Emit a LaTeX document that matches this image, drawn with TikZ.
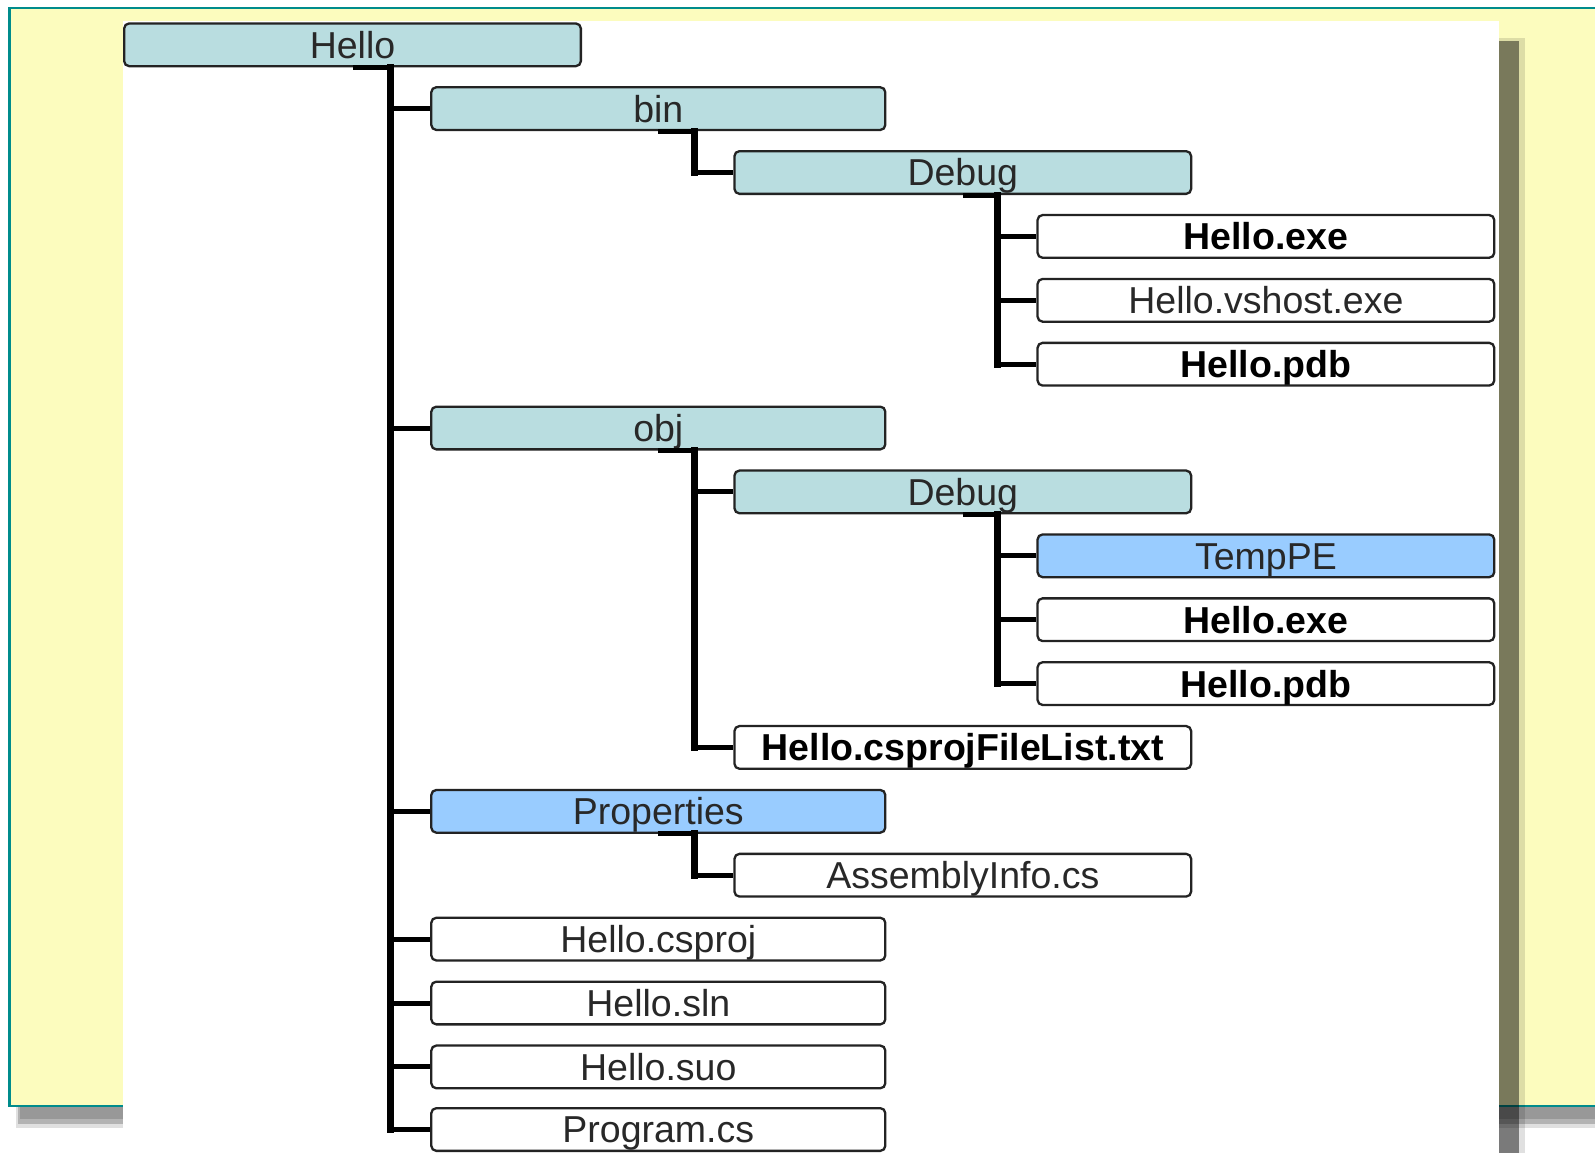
\documentclass[tikz,border=0pt]{standalone}
\usepackage{fontspec}
\setmainfont{Liberation Sans}
\definecolor{panelyellow}{RGB}{252,252,190}
\definecolor{panelteal}{RGB}{0,140,140}
\definecolor{tealfill}{RGB}{185,221,224}
\definecolor{bluefill}{RGB}{153,204,255}
\definecolor{boxline}{RGB}{35,35,35}
\definecolor{txtgray}{RGB}{40,40,40}
\begin{document}
\begin{tikzpicture}[x=1pt,y=-1pt,
  box/.style={draw=boxline, line width=2.3, rounded corners=5, minimum width=456.7,
    minimum height=42.7, inner sep=0, text height=26.9, text depth=0,
    font=\fontsize{37.5}{40}\selectfont, text=txtgray},
  lone/.style={minimum width=454},
  folder/.style={box, fill=tealfill},
  selfolder/.style={box, fill=bluefill},
  file/.style={box, fill=white},
  bfile/.style={box, fill=white, font=\fontsize{37.5}{40}\selectfont\bfseries, text=black},
  conn/.style={line width=5, black},
  vconn/.style={line width=7, black, line cap=rect}]
\clip (0,0) rectangle (1595,1152);
\fill[white] (0,0) rectangle (1595,1152);
% yellow panel and its shadow
\fill[black,opacity=0.12] (16,1104) rectangle (1620,1128);
\fill[black,opacity=0.2] (18,1104) rectangle (1620,1124);
\fill[black,opacity=0.15] (20,1104) rectangle (1620,1119);
\filldraw[fill=panelyellow, draw=panelteal, line width=2.5] (9.5,8) rectangle (1630,1106);
% white panel and its shadow
\fill[black,opacity=0.12] (140,38) rectangle (1525,1170);
\fill[black,opacity=0.45] (143,41) rectangle (1519,1170);
\fill[white] (123,21) rectangle (1499,1170);
% trunks
\coordinate (ta) at (390.6,0);
\coordinate (tb) at (694.7,0);
\coordinate (tc) at (997.9,0);
% nodes
\node[folder] (hello) at (352.5,44.8) {Hello};
\node[folder,lone] (bin) at (658.3,108.6) {bin};
\node[folder] (bindebug) at (962.8,172.5) {Debug};
\node[bfile] (binexe) at (1265.9,236.4) {Hello.exe};
\node[file] (vshost) at (1265.9,300.3) {Hello.vshost.exe};
\node[bfile] (binpdb) at (1265.9,364.2) {Hello.pdb};
\node[folder,lone] (obj) at (658.3,428.0) {obj};
\node[folder] (objdebug) at (962.8,491.9) {Debug};
\node[selfolder] (temppe) at (1265.9,555.8) {TempPE};
\node[bfile] (objexe) at (1265.9,619.7) {Hello.exe};
\node[bfile] (objpdb) at (1265.9,683.6) {Hello.pdb};
\node[bfile] (filelist) at (962.8,747.4) {Hello.csprojFileList.txt};
\node[selfolder,lone] (props) at (658.3,811.3) {Properties};
\node[file] (asminfo) at (962.8,875.2) {AssemblyInfo.cs};
\node[file,lone] (csproj) at (658.3,939.1) {Hello.csproj};
\node[file,lone] (sln) at (658.3,1003.0) {Hello.sln};
\node[file,lone] (suo) at (658.3,1066.9) {Hello.suo};
\node[file,lone] (program) at (658.3,1129.5) {Program.cs};
% connectors: level 1
\draw[conn] (hello.south) -- (ta |- hello.south);
\draw[vconn] (ta |- hello.south) -- (ta |- program.west);
\foreach \n in {bin,obj,props,csproj,sln,suo,program}
  \draw[conn] (ta |- \n.west) -- (\n.west);
% bin
\draw[conn] (bin.south) -- (tb |- bin.south);
\draw[vconn] (tb |- bin.south) -- (tb |- bindebug.west);
\draw[conn] (tb |- bindebug.west) -- (bindebug.west);
\draw[conn] (bindebug.south) -- (tc |- bindebug.south);
\draw[vconn] (tc |- bindebug.south) -- (tc |- binpdb.west);
\foreach \n in {binexe,vshost,binpdb}
  \draw[conn] (tc |- \n.west) -- (\n.west);
% obj
\draw[conn] (obj.south) -- (tb |- obj.south);
\draw[vconn] (tb |- obj.south) -- (tb |- filelist.west);
\foreach \n in {objdebug,filelist}
  \draw[conn] (tb |- \n.west) -- (\n.west);
\draw[conn] (objdebug.south) -- (tc |- objdebug.south);
\draw[vconn] (tc |- objdebug.south) -- (tc |- objpdb.west);
\foreach \n in {temppe,objexe,objpdb}
  \draw[conn] (tc |- \n.west) -- (\n.west);
% properties
\draw[conn] (props.south) -- (tb |- props.south);
\draw[vconn] (tb |- props.south) -- (tb |- asminfo.west);
\draw[conn] (tb |- asminfo.west) -- (asminfo.west);
\end{tikzpicture}
\end{document}
